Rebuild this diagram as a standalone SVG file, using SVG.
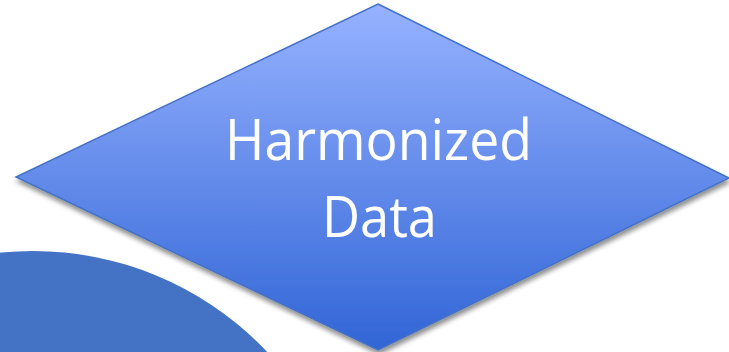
<svg xmlns="http://www.w3.org/2000/svg" width="729" height="352" viewBox="0 0 729 352">
  <defs>
    <linearGradient id="g" x1="0" y1="4" x2="0" y2="350" gradientUnits="userSpaceOnUse">
      <stop offset="0" stop-color="#96B2FF"/>
      <stop offset="1" stop-color="#3165D6"/>
    </linearGradient>
    <filter id="sh" x="-10%" y="-10%" width="120%" height="130%">
      <feGaussianBlur in="SourceAlpha" stdDeviation="2.5"/>
      <feOffset dx="1" dy="4" result="b"/>
      <feComponentTransfer><feFuncA type="linear" slope="0.45"/></feComponentTransfer>
      <feMerge><feMergeNode/><feMergeNode in="SourceGraphic"/></feMerge>
    </filter>
    <style>
      .lbl { font-family: "Open Sans", "Liberation Sans", sans-serif; font-size: 56px; fill: #FFFFFF; text-anchor: middle; }
    </style>
  </defs>
  <rect width="729" height="352" fill="#FFFFFF"/>
  <g id="circle">
    <circle cx="33" cy="573" r="322" fill="#4472C4"/>
  </g>
  <g id="diamond">
    <polygon points="378,4 729,178 378,350 16,177" fill="url(#g)" stroke="#4472C4" stroke-width="1.5" filter="url(#sh)"/>
    <text class="lbl" x="378.5" y="160" textLength="307" lengthAdjust="spacingAndGlyphs">Harmonized</text>
    <text class="lbl" x="379.5" y="237" textLength="115" lengthAdjust="spacingAndGlyphs">Data</text>
  </g>
  <g id="connectors"/>
</svg>
